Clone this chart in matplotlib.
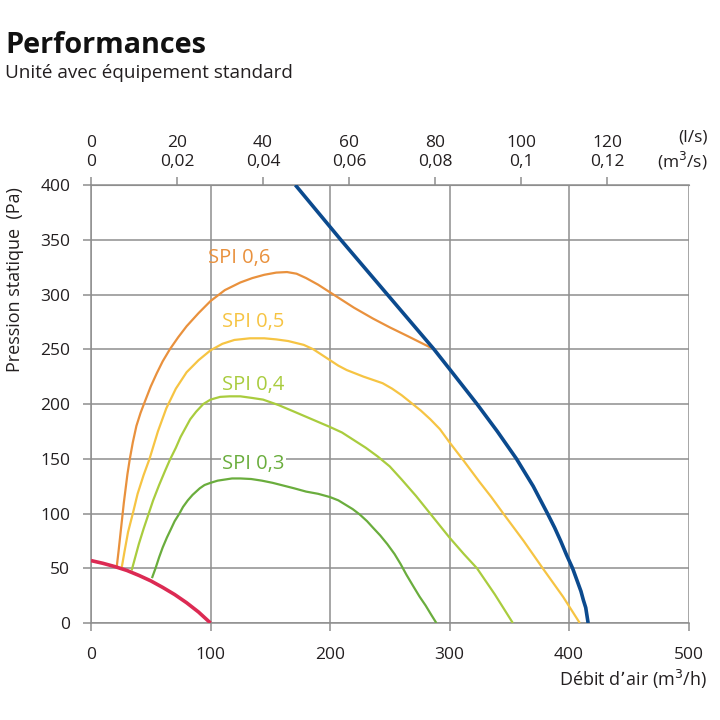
import matplotlib.pyplot as plt
import numpy as np

plt.rcParams['font.family'] = ['Open Sans', 'DejaVu Sans']

# Courbes (débit m3/h, pression Pa)
spi06_x = [21.5, 23, 24.5, 26, 27.5, 29, 30.5, 32.5, 35, 38, 41.5, 45, 50, 55, 60, 66, 73, 80, 90, 100,
           112, 125, 135, 145, 155, 164, 172, 180, 190, 200, 210, 220, 236, 250, 265, 276, 287]
spi06_y = [51, 65, 80, 95, 110, 123, 136, 150, 165, 180, 192, 202, 216, 228, 239, 250, 261, 271, 283,
           294, 304, 311, 315, 318, 320, 320.5, 319, 315, 309, 302, 295, 288, 278, 270, 262, 256, 250]

spi05_x = [25.6, 28, 31, 35, 39, 44, 49, 56, 63, 71, 80, 90, 100, 110, 120, 133, 145, 155, 165, 178,
           186, 193, 200, 207, 214, 228, 236, 244, 252, 260, 268, 276, 284, 292, 300, 312, 325, 335,
           345, 362, 378, 395, 409]
spi05_y = [50, 65, 83, 100, 118, 135, 150, 175, 196, 214, 229, 240, 249, 255, 258.5, 260, 260, 259,
           257.5, 254, 250, 245, 240, 235, 231, 225, 222, 219, 214, 208, 201, 194, 186, 177, 165, 148,
           129, 115, 100, 75, 50, 24, 0]

spi04_x = [34, 37, 40, 44, 48, 52, 57, 62, 66, 71, 75, 79, 83, 88, 94, 100, 108, 116, 125, 135, 144,
           157, 170, 185, 200, 210, 220, 230, 240, 250, 260, 272, 286, 300, 312, 323, 338, 353]
spi04_y = [48, 60, 72, 86, 99, 112, 126, 139, 149, 160, 170, 178, 186, 193, 200, 204, 206.5, 207, 207,
           205.5, 204, 199, 193, 186, 179, 174, 167, 160, 152, 143, 131, 116, 97, 78, 63, 50, 26, 0]

spi03_x = [51, 54, 57, 60, 63.5, 67, 70, 74, 77, 81, 85, 91, 95, 100, 106, 112, 118, 125, 134, 143,
           152, 161, 170, 180, 190, 200, 207, 213, 219, 225, 231, 236, 242, 248, 254, 259, 264, 270,
           275, 280, 285, 289]
spi03_y = [41, 50, 60, 69, 78, 86, 93, 100, 106, 112, 117, 123, 126, 128, 130, 131, 132, 132, 131.5,
           130, 128, 125.5, 123, 120, 118, 115, 112, 108, 104, 99, 93, 87, 80, 72, 63, 54, 44, 33, 24,
           16, 7, 0]

reseau_x = [0, 10, 20, 30, 40, 50, 60, 70, 80, 90, 100]
reseau_y = [57, 54.5, 51.5, 48, 43.5, 38.5, 32.5, 26, 18.5, 10, 0]

max_x = [171, 209, 248, 287, 300, 323, 340, 356, 370, 382, 388, 393, 398, 403, 407, 410, 412, 414, 415, 416]
max_y = [400, 350, 300, 250, 232, 200, 175, 150, 125, 100, 87, 75, 62, 50, 38, 29, 21, 14, 7, 0]

spi_labels = ['SPI 0,6', 'SPI 0,5', 'SPI 0,4', 'SPI 0,3']
spi_label_x = [98, 110, 110, 110]
spi_label_y = [333, 275, 217, 145]

ls_ticks = [0, 20, 40, 60, 80, 100, 120]
ls_labels = ['0\n0', '20\n0,02', '40\n0,04', '60\n0,06', '80\n0,08', '100\n0,1', '120\n0,12']

c_06 = '#e9913d'
c_05 = '#f6c443'
c_04 = '#a9cc3e'
c_03 = '#6aad3d'
c_red = '#dc2a53'
c_blue = '#0b4a8e'
c_grid = '#8e8e8e'
c_text = '#231f20'

fig = plt.figure(figsize=(7.2, 7.2), dpi=100)
ax = fig.add_axes([91 / 720, 1 - 623 / 720, (688.5 - 91) / 720, (623 - 185) / 720])

ax.set_xlim(0, 500)
ax.set_ylim(0, 400)
ax.set_xticks([0, 100, 200, 300, 400, 500])
ax.set_yticks(np.arange(0, 401, 50))
ax.grid(True, color=c_grid, linewidth=1.1)
for s in ax.spines.values():
    s.set_color(c_grid)
    s.set_linewidth(1.1)
ax.spines['right'].set_visible(False)
ax.tick_params(colors=c_grid, length=6, width=1.1, labelsize=12.5, labelcolor=c_text)
ax.tick_params(axis='x', pad=11)
ax.tick_params(axis='y', pad=9)

curves = [(spi06_x, spi06_y, c_06), (spi05_x, spi05_y, c_05),
          (spi04_x, spi04_y, c_04), (spi03_x, spi03_y, c_03)]
for xs, ys, c in curves:
    ax.plot(xs, ys, color=c, linewidth=1.6, solid_capstyle='butt', solid_joinstyle='round', zorder=3)

ax.plot(reseau_x, reseau_y, color=c_red, linewidth=2.6, solid_capstyle='butt',
        solid_joinstyle='round', zorder=4)
ax.plot(max_x, max_y, color=c_blue, linewidth=2.6, solid_capstyle='butt',
        solid_joinstyle='round', zorder=4)

for lab, lx, ly, (_, _, c) in zip(spi_labels, spi_label_x, spi_label_y, curves):
    bbox = None
    if lab == 'SPI 0,3':
        bbox = dict(facecolor='white', edgecolor='none', pad=1)
    ax.text(lx, ly, lab, color=c, fontsize=14.5, ha='left', va='center', bbox=bbox, zorder=5)

# Axe supérieur en l/s et m3/s
sec = ax.secondary_xaxis('top', functions=(lambda q: q / 3.6, lambda l: l * 3.6))
sec.set_xticks(ls_ticks)
sec.set_xticklabels(ls_labels, fontsize=12.5, color=c_text, linespacing=1.25)
sec.tick_params(colors=c_grid, length=6, width=1.1, pad=5, labelcolor=c_text)
sec.spines['top'].set_color(c_grid)

fig.text(708 / 720, 1 - 151 / 720, '(l/s)\n(m$^3$/s)', ha='right', va='center', fontsize=12.5,
         color=c_text, linespacing=1.25)

fig.text(707 / 720, 1 - 679 / 720, "Débit d’air (m$^3$/h)", ha='right', va='center', fontsize=13,
         color=c_text)
fig.text(15 / 720, 1 - 280 / 720, 'Pression statique  (Pa)', rotation=90, ha='center', va='center',
         fontsize=13, color=c_text)

fig.text(5 / 720, 1 - 53 / 720, 'Performances', fontsize=20.8, fontweight='bold', ha='left',
         va='baseline', color='#111111')
fig.text(5 / 720, 1 - 78 / 720, 'Unité avec équipement standard', fontsize=13.6, ha='left',
         va='baseline', color=c_text)

fig.savefig('out.png', dpi=100)
